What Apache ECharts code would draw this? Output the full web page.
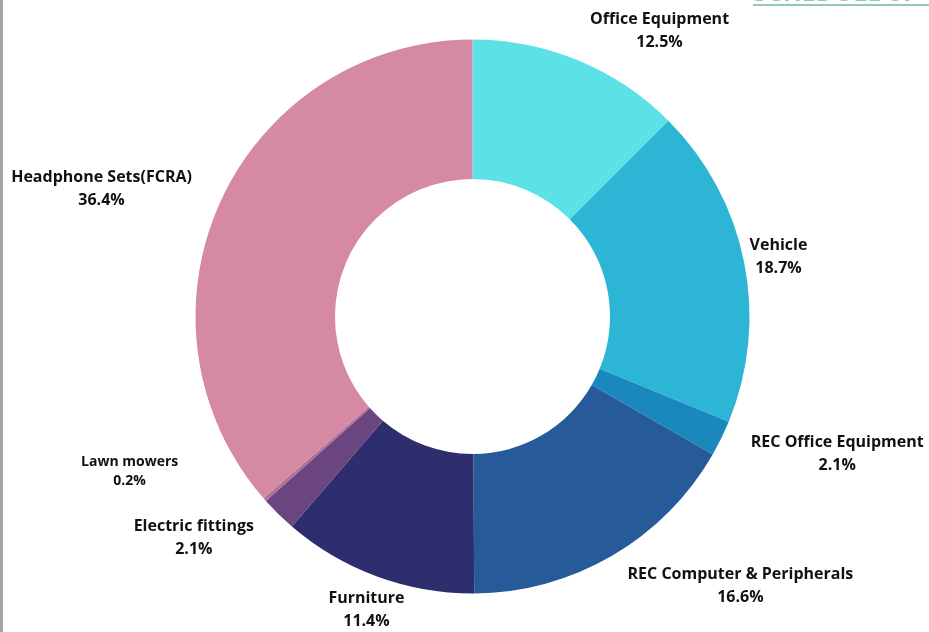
<!DOCTYPE html>
<html>
<head>
<meta charset="utf-8">
<style>
html,body{margin:0;padding:0;background:#fff;}
#chart{width:929px;height:632px;}
</style>
<script src="https://cdn.jsdelivr.net/npm/echarts@6/dist/echarts.min.js"></script>
</head>
<body>
<div id="chart"></div>
<script>
const categories = ['Office Equipment','Vehicle','REC Office Equipment','REC Computer & Peripherals','Furniture','Electric fittings','Lawn mowers','Headphone Sets(FCRA)'];
const shares = [12.5, 18.7, 2.1, 16.6, 11.4, 2.1, 0.2, 36.4];
const colors = ['#5ce1e6','#2db5d6','#1a88bd','#265a99','#2e2e6e','#6b4580','#b0709a','#d589a3'];

const CX = 472.5, CY = 316.5, R_IN = 137.5, R_OUT = 277;
const total = shares.reduce((a,b)=>a+b,0);
const mids = [];
(function(){ let acc = 0; shares.forEach(v => { mids.push((acc + v/2)/total*2*Math.PI); acc += v; }); })();
// label nudges (layout tweak)
const nudge = {
  'Office Equipment':[0,-10], 'Vehicle':[-6,-4], 'REC Office Equipment':[18,11],
  'REC Computer & Peripherals':[4,13], 'Furniture':[39,13], 'Electric fittings':[-13,12],
  'Lawn mowers':[-77,-36], 'Headphone Sets(FCRA)':[-17,-9]
};

const chart = echarts.init(document.getElementById('chart'));
chart.setOption({
  animation:false,
  backgroundColor:'#fff',
  graphic:[
    {type:'rect', shape:{x:0,y:0,width:3,height:632}, style:{fill:'#a6a6a6'}},
    {type:'text', left:753, top:-19, style:{text:'SCHEDULE 07', fill:'#93c9ad', font:'bold 25px "Open Sans"'}},
    {type:'rect', shape:{x:753,y:4,width:176,height:2}, style:{fill:'#93c9ad'}}
  ],
  series:[{
    type:'pie',
    center:[CX, CY],
    radius:[R_IN, R_OUT],
    startAngle:90,
    clockwise:true,
    avoidLabelOverlap:false,
    itemStyle:{borderWidth:0},
    label:{
      show:true, position:'outside', color:'#111',
      fontFamily:'Open Sans', fontWeight:'bold', fontSize:16, lineHeight:23,
      formatter: p => p.name + '\n' + p.value.toFixed(1) + '%'
    },
    labelLine:{show:false},
    labelLayout: function(params){
      const i = params.dataIndex;
      const th = mids[i];
      const dx = Math.sin(th), dy = -Math.cos(th);
      const w = params.labelRect.width, h = params.labelRect.height;
      const px = CX + dx*R_OUT, py = CY + dy*R_OUT;
      const sx = dx < 0 ? -1 : 1, sy = dy < 0 ? -1 : 1;
      const xo = sx*(w/2 + h/4);
      const yo = sy*(h/2)*dy*dy;
      const n = nudge[categories[i]] || [0,0];
      return {x: px + xo + n[0], y: py + yo + n[1], align:'center', verticalAlign:'middle'};
    },
    data: categories.map((c,i)=>({
      name:c, value:shares[i], itemStyle:{color:colors[i]},
      label: c === 'Lawn mowers' ? {fontSize:14, lineHeight:19} : undefined
    }))
  }]
});
</script>
</body>
</html>
